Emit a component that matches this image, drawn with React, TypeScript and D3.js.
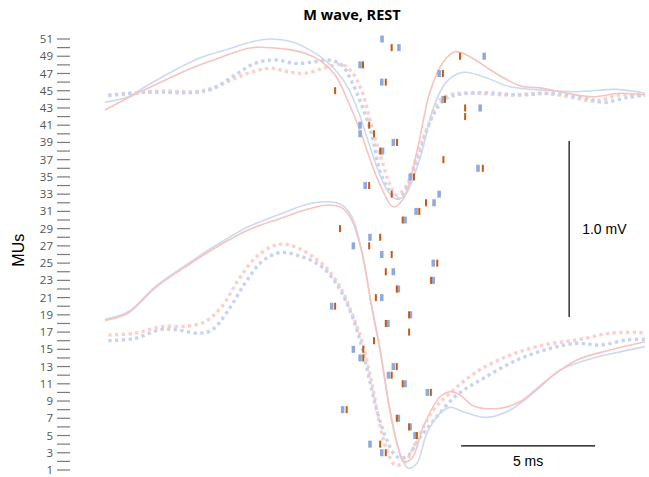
import React from "react";
import * as d3 from "d3";

// ---------- data ----------
const title = "M wave, REST";
const yLabel = "MUs";
const muIds = d3.range(1, 52);
const tickLabels = muIds.filter((d) => d % 2 === 1);

// firing times (ms) per MU, index = MU-1 ; null = not shown
const blueTimes: (number | null)[] = [
  null, null, 10.4, 9.96, 11.64, 11.46, 11.02, 8.94, null, 12.1,
  11.27, 10.65, 10.83, 9.59, 9.34, null, null, 10.63, 11.47, 8.53,
  10.4, 11.02, 12.32, 10.83, 12.32, 10.4, 9.34, 9.96, null, 11.27,
  11.68, 12.35, 12.54, 9.78, 11.46, 13.99, null, 10.43, 10.83, 9.59,
  9.59, null, 14.07, 12.69, null, 10.4, 12.54, 9.59, 14.22, 11.04,
  10.41,
];
const orangeTimes: (number | null)[] = [
  null, null, 10.55, 10.34, 11.71, 11.42, 10.96, 9.09, null, 12.23,
  11.18, 10.77, 10.96, 9.71, 9.71, 10.11, 11.42, 10.55, 11.42, 8.66,
  10.18, 10.96, 12.24, 10.55, 12.47, 10.77, 9.93, 10.34, 8.84, 11.18,
  11.8, 12.05, 10.77, 9.93, 11.6, 14.17, 12.7, 10.34, 10.97, 10.11,
  9.93, 13.51, 13.51, 12.76, 8.66, 10.55, 12.68, 9.7, 13.32, 10.77,
  null,
];

// waveforms: [ms, mV]
const topSolidBlue: [number, number][] = [
  [0.07, -0.041], [0.94, -0.01], [1.57, 0.047], [2.81, 0.152], [3.68, 0.214],
  [4.68, 0.261], [5.55, 0.303], [6.29, 0.318], [7.04, 0.303], [7.66, 0.261],
  [8.28, 0.199], [8.78, 0.123], [9.15, 0.038], [9.53, -0.095], [9.9, -0.265],
  [10.26, -0.426], [10.6, -0.54], [10.93, -0.591], [11.27, -0.568], [11.83, -0.358],
  [12.32, -0.074], [12.82, 0.076], [13.44, 0.129], [14.19, 0.104], [15.19, 0.047],
  [16.43, 0.028], [17.68, 0.019], [19.17, 0.032], [20.22, 0.01],
];
const topSolidPink: [number, number][] = [
  [0.07, -0.085], [0.94, -0.015], [2.19, 0.076], [3.43, 0.161], [4.3, 0.209],
  [5.55, 0.269], [6.79, 0.261], [7.54, 0.237], [8.16, 0.189], [8.66, 0.114],
  [9.15, -0.038], [9.65, -0.227], [10.04, -0.398], [10.34, -0.511], [10.83, -0.635],
  [11.21, -0.587], [11.71, -0.322], [12.2, 0.019], [12.7, 0.189], [13.13, 0.246],
  [13.69, 0.218], [14.56, 0.132], [15.56, 0.053], [16.43, 0.038], [17.3, 0.01],
  [18.29, -0.01], [19.29, 0.01], [20.22, 0.0],
];
const topDotPink: [number, number][] = [
  [0.2, 0.0], [0.94, 0.01], [2.19, 0.023], [3.43, 0.019], [4.06, 0.038],
  [4.93, 0.095], [5.67, 0.136], [6.29, 0.152], [6.91, 0.132], [7.54, 0.123],
  [8.28, 0.155], [8.91, 0.174], [9.28, 0.132], [9.65, 0.025], [10.03, -0.18],
  [10.4, -0.37], [10.71, -0.511], [10.96, -0.568], [11.33, -0.511], [11.76, -0.322],
  [12.14, -0.17], [12.57, -0.028], [13.07, 0.006], [13.94, 0.01], [15.19, 0.0],
  [16.43, 0.01], [17.68, -0.019], [18.3, -0.034], [19.29, 0.0], [20.22, 0.0],
];
const topDotBlue: [number, number][] = [
  [0.2, -0.004], [1.57, 0.015], [3.43, 0.015], [4.06, 0.034], [4.93, 0.114],
  [5.67, 0.18], [6.42, 0.199], [7.16, 0.18], [7.91, 0.189], [8.41, 0.199],
  [8.91, 0.17], [9.28, 0.076], [9.65, -0.057], [10.03, -0.227], [10.34, -0.436],
  [10.71, -0.549], [11.02, -0.587], [11.39, -0.511], [11.83, -0.322], [12.26, -0.132],
  [12.76, -0.023], [13.32, 0.004], [14.32, 0.013], [15.56, 0.0], [16.8, 0.01],
  [18.05, -0.019], [18.67, -0.041], [19.54, -0.015], [20.22, 0.0],
];
const botSolidBlue: [number, number][] = [
  [0.07, 0.089], [0.94, 0.132], [1.94, 0.274], [3.18, 0.407], [4.43, 0.53],
  [5.42, 0.615], [6.67, 0.691], [7.66, 0.744], [8.41, 0.757], [8.91, 0.739],
  [9.28, 0.672], [9.65, 0.483], [10.03, 0.161], [10.34, -0.085], [10.71, -0.426],
  [11.08, -0.672], [11.39, -0.757], [11.71, -0.729], [12.08, -0.559], [12.57, -0.445],
  [12.95, -0.411], [13.44, -0.436], [14.32, -0.468], [15.19, -0.426], [16.18, -0.313],
  [17.05, -0.199], [18.05, -0.142], [19.04, -0.104], [20.22, -0.066],
];
const botSolidPink: [number, number][] = [
  [0.07, 0.082], [0.94, 0.125], [1.94, 0.267], [3.18, 0.398], [4.43, 0.517],
  [5.42, 0.597], [6.67, 0.665], [7.66, 0.716], [8.41, 0.739], [8.91, 0.722],
  [9.28, 0.653], [9.65, 0.472], [10.03, 0.153], [10.34, -0.091], [10.71, -0.438],
  [11.01, -0.642], [11.21, -0.72], [11.53, -0.699], [11.95, -0.521], [12.57, -0.351],
  [12.95, -0.322], [13.32, -0.341], [13.82, -0.403], [14.81, -0.416], [15.56, -0.379],
  [16.56, -0.256], [17.68, -0.142], [18.92, -0.085], [20.22, -0.038],
];
const botDotPink: [number, number][] = [
  [0.2, 0.0], [1.19, 0.01], [2.19, 0.047], [3.18, 0.051], [3.81, 0.076],
  [4.43, 0.161], [5.05, 0.313], [5.67, 0.436], [6.29, 0.502], [6.73, 0.517],
  [7.29, 0.493], [7.91, 0.436], [8.41, 0.369], [8.91, 0.256], [9.28, 0.123],
  [9.65, -0.028], [10.03, -0.274], [10.34, -0.521], [10.59, -0.653], [10.9, -0.739],
  [11.27, -0.72], [11.71, -0.597], [12.32, -0.426], [13.07, -0.313], [13.94, -0.209],
  [15.19, -0.114], [16.43, -0.057], [17.68, -0.028], [18.92, 0.01], [19.91, 0.015],
  [20.22, 0.01],
];
const botDotBlue: [number, number][] = [
  [0.2, -0.032], [1.19, -0.019], [2.19, 0.032], [2.81, 0.028], [3.56, 0.01],
  [4.06, 0.028], [4.68, 0.142], [5.3, 0.294], [5.92, 0.416], [6.6, 0.468],
  [7.41, 0.445], [8.16, 0.388], [8.78, 0.274], [9.28, 0.114], [9.65, -0.066],
  [10.03, -0.313], [10.21, -0.426], [10.59, -0.597], [10.96, -0.691], [11.33, -0.691],
  [11.76, -0.597], [12.45, -0.464], [13.2, -0.341], [14.19, -0.246], [15.44, -0.142],
  [16.68, -0.076], [17.68, -0.047], [18.54, -0.057], [19.54, -0.028], [20.22, -0.024],
];

// group baselines (in MU units) and scale-bar definitions
const topBaselineMU = 44.5;
const botBaselineMU = 16.66;
const mvBar = 1.0;
const msBar = 5;
const mvBarAtMs = 17.39;
const mvBarBottomMU = 18.75;
const msBarStartMs = 13.36;
const msBarAtMU = 3.8;

export default function App() {
  const W = 649;
  const H = 477;
  const x = d3.scaleLinear().domain([0, 20.22]).range([103, 645]);
  const y = d3.scaleLinear().domain([1, 51]).range([470, 39]);
  const pxPerMv = 176;
  const pxPerMU = y(1) - y(2);
  const muPerMv = pxPerMv / pxPerMU;

  const mkLine = (base: number) =>
    d3
      .line<[number, number]>()
      .x((d) => x(d[0]))
      .y((d) => y(base + d[1] * muPerMv))
      .curve(d3.curveCatmullRom.alpha(0.5));

  const topLine = mkLine(topBaselineMU);
  const botLine = mkLine(botBaselineMU);

  const pinkSolid = "#F7C3BE";
  const blueSolid = "#CDD9F1";
  const pinkDot = "#F9D0CC";
  const blueDot = "#C7D4EF";
  const markerBlue = "#8EA9DB";
  const markerOrange = "#C55A11";

  const curves = [
    { d: topLine(topDotPink), c: pinkDot, dot: true },
    { d: topLine(topDotBlue), c: blueDot, dot: true },
    { d: topLine(topSolidBlue), c: blueSolid, dot: false },
    { d: topLine(topSolidPink), c: pinkSolid, dot: false },
    { d: botLine(botDotPink), c: pinkDot, dot: true },
    { d: botLine(botDotBlue), c: blueDot, dot: true },
    { d: botLine(botSolidBlue), c: blueSolid, dot: false },
    { d: botLine(botSolidPink), c: pinkSolid, dot: false },
  ];

  const font = "'Open Sans', 'Liberation Sans', sans-serif";

  return (
    <svg width={W} height={H} style={{ position: "absolute", left: 0, top: 0, background: "#fff" }}>
      <rect width={W} height={H} fill="#fff" />
      <text x={352} y={20} textAnchor="middle" fontFamily={font} fontWeight="bold" fontSize={14.5} fill="#000">
        {title}
      </text>
      <text
        transform={`translate(24,${y(26.5)}) rotate(-90)`}
        textAnchor="middle"
        fontFamily="'Liberation Sans', Arial, sans-serif"
        fontSize={16}
        fill="#000"
      >
        {yLabel}
      </text>
      {muIds.map((m) => (
        <line key={"t" + m} x1={57} x2={70} y1={y(m)} y2={y(m)} stroke="#7a7a7a" strokeWidth={1.2} />
      ))}
      {tickLabels.map((m) => (
        <text
          key={"l" + m}
          x={53}
          y={y(m)}
          dy="0.35em"
          textAnchor="end"
          fontFamily={font}
          fontSize={11.5}
          fill="#555"
        >
          {m}
        </text>
      ))}
      {curves.map((c, i) => (
        <path
          key={"c" + i}
          d={c.d || ""}
          fill="none"
          stroke={c.c}
          strokeWidth={c.dot ? 3.4 : 1.6}
          strokeDasharray={c.dot ? "3.3 3.4" : undefined}
        />
      ))}
      {muIds.map((m, i) => {
        const b = blueTimes[i];
        const o = orangeTimes[i];
        return (
          <g key={"m" + m}>
            {b !== null && (
              <rect x={x(b) - 1.75} y={y(m) - 3.5} width={3.5} height={7} fill={markerBlue} />
            )}
            {o !== null && (
              <rect x={x(o) - 1} y={y(m) - 3.5} width={2} height={7} fill={markerOrange} />
            )}
          </g>
        );
      })}
      {/* scale bars */}
      <line
        x1={x(mvBarAtMs)}
        x2={x(mvBarAtMs)}
        y1={y(mvBarBottomMU)}
        y2={y(mvBarBottomMU) - mvBar * pxPerMv}
        stroke="#000"
        strokeWidth={1.2}
      />
      <text
        x={x(mvBarAtMs) + 13}
        y={y(mvBarBottomMU) - (mvBar * pxPerMv) / 2 + 5}
        fontFamily="'Liberation Sans', Arial, sans-serif"
        fontSize={14}
        fill="#000"
      >
        {mvBar.toFixed(1)} mV
      </text>
      <line
        x1={x(msBarStartMs)}
        x2={x(msBarStartMs + msBar)}
        y1={y(msBarAtMU)}
        y2={y(msBarAtMU)}
        stroke="#000"
        strokeWidth={1.2}
      />
      <text
        x={(x(msBarStartMs) + x(msBarStartMs + msBar)) / 2}
        y={y(msBarAtMU) + 20}
        textAnchor="middle"
        fontFamily="'Liberation Sans', Arial, sans-serif"
        fontSize={14}
        fill="#000"
      >
        {msBar} ms
      </text>
    </svg>
  );
}
